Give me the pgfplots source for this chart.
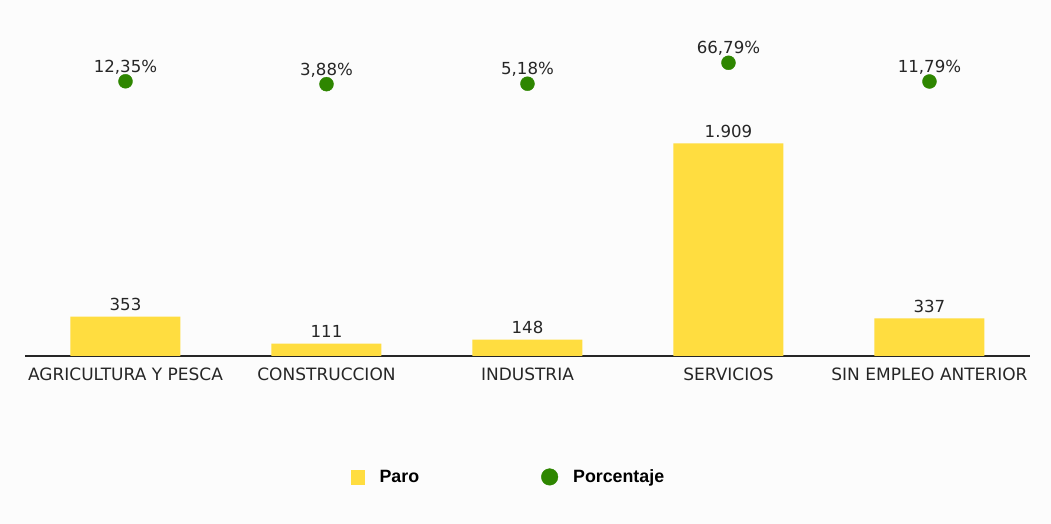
\documentclass[border=0pt]{standalone}
\usepackage{pgfplots}
\pgfplotsset{compat=1.18}
\usepackage{fontspec}
\setmainfont{DejaVu Sans}
\newfontfamily\legendfont{Liberation Sans}
\definecolor{paro}{RGB}{255,221,64}
\definecolor{porc}{RGB}{46,134,0}
\definecolor{bg}{RGB}{252,252,252}
\newcommand\lblfont{\fontsize{16.6}{19}\selectfont}
\newcommand\tickfont{\fontsize{17}{19}\selectfont}
\begin{document}
\begin{tikzpicture}[x=1pt,y=1pt]
\fill[bg] (0,0) rectangle (1051,524);
\useasboundingbox (0,0) rectangle (1051,524);
\begin{axis}[
  at={(25pt,168pt)}, anchor=south west,
  scale only axis, width=1005pt, height=335pt,
  xmin=-0.5, xmax=4.5, ymin=0, ymax=3007,
  axis x line*=bottom, axis y line=none,
  x axis line style={-, line width=1.4pt, black!85},
  xtick={0,1,2,3,4},
  xticklabels={AGRICULTURA Y PESCA, CONSTRUCCION, INDUSTRIA, SERVICIOS, SIN EMPLEO ANTERIOR},
  xtick style={draw=none},
  xticklabel style={font=\tickfont, text=black!85, anchor=north, inner sep=0pt, yshift=-7pt},
  clip=false,
  ybar, bar width=110pt, bar shift=0pt,
]
\addplot[fill=paro, draw=none, nodes near coords, point meta=explicit symbolic,
  nodes near coords style={font=\lblfont, text=black!85, anchor=base, inner sep=0pt, yshift=6pt}]
  coordinates {(0,353)[353] (1,111)[111] (2,148)[148] (3,1909)[1.909] (4,337)[337]};
\end{axis}
\begin{axis}[
  at={(25pt,168pt)}, anchor=south west,
  scale only axis, width=1005pt, height=335pt,
  xmin=-0.5, xmax=4.5, ymin=-795.6, ymax=189.7,
  hide axis, clip=false,
  legend columns=2,
  legend style={at={(0.48,-0.361)}, anchor=center, draw=none, fill=none,
    font=\legendfont\bfseries\fontsize{17.8}{20}\selectfont,
    nodes={inner sep=0pt},
    /tikz/every odd column/.style={column sep=15pt},
    /tikz/every even column/.style={column sep=122pt}},
]
\addlegendimage{legend image code/.code={\fill[paro] (0pt,-6.8pt) rectangle (13.6pt,6.8pt);}}
\addlegendentry{Paro}
\addplot[only marks, mark=*, mark size=7pt, color=porc, mark options={draw=porc, fill=porc},
  nodes near coords, point meta=explicit symbolic,
  nodes near coords style={font=\lblfont, text=black!85, anchor=base, inner sep=0pt, yshift=9pt},
  legend image code/.code={\fill[porc] (8.3pt,0pt) circle (8.3pt);}]
  coordinates {(0,12.35)[12,35\%] (1,3.88)[3,88\%] (2,5.18)[5,18\%] (3,66.79)[66,79\%] (4,11.79)[11,79\%]};
\addlegendentry{Porcentaje}
\end{axis}
\end{tikzpicture}
\end{document}
